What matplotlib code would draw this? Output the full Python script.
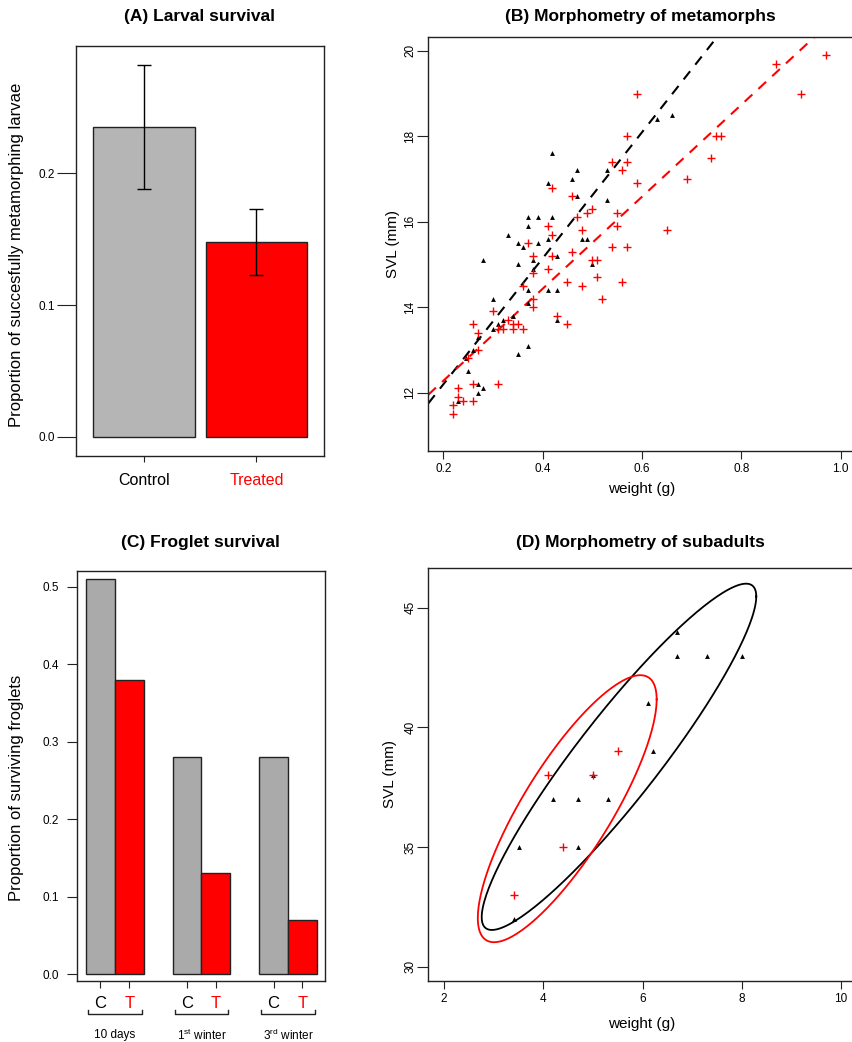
import numpy as np
import matplotlib.pyplot as plt
from matplotlib.transforms import blended_transform_factory

plt.rcParams['font.family'] = ['Liberation Sans', 'DejaVu Sans']
plt.rcParams['mathtext.fontset'] = 'custom'
plt.rcParams['mathtext.rm'] = 'Liberation Sans'

# (A) larval survival
larval_groups = ['Control', 'Treated']
larval_mean = [0.235, 0.148]
larval_err = [0.047, 0.025]

# (B) metamorphs: weight (g) and SVL (mm)
meta_ctrl_w = [0.66, 0.63, 0.42, 0.41, 0.47, 0.46, 0.53, 0.47, 0.53, 0.37, 0.39, 0.42,
               0.37, 0.33, 0.35, 0.36, 0.39, 0.41, 0.48, 0.49, 0.43, 0.28, 0.35, 0.38,
               0.38, 0.41, 0.43, 0.37, 0.30, 0.37, 0.34, 0.32, 0.31, 0.30, 0.27, 0.26,
               0.245, 0.25, 0.43, 0.37, 0.35, 0.27, 0.28, 0.27, 0.23, 0.50]
meta_ctrl_svl = [18.5, 18.4, 17.6, 16.9, 17.2, 17.0, 17.2, 16.6, 16.5, 16.1, 16.1, 16.1,
                 15.9, 15.7, 15.5, 15.4, 15.5, 15.6, 15.6, 15.6, 15.2, 15.1, 15.0, 14.9,
                 15.1, 14.4, 14.4, 14.4, 14.2, 14.1, 13.8, 13.7, 13.6, 13.5, 13.3, 13.0,
                 12.8, 12.5, 13.7, 13.1, 12.9, 12.2, 12.1, 12.0, 11.8, 15.0]
meta_trt_w = [0.97, 0.87, 0.92, 0.59, 0.75, 0.76, 0.74, 0.57, 0.54, 0.57, 0.56, 0.59,
              0.69, 0.42, 0.46, 0.50, 0.49, 0.55, 0.47, 0.55, 0.41, 0.48, 0.42, 0.65,
              0.37, 0.54, 0.57, 0.46, 0.38, 0.42, 0.50, 0.51, 0.41, 0.38, 0.45, 0.48,
              0.51, 0.56, 0.52, 0.36, 0.38, 0.38, 0.30, 0.43, 0.45, 0.33, 0.34, 0.35,
              0.31, 0.32, 0.34, 0.36, 0.26, 0.27, 0.27, 0.25, 0.26, 0.31, 0.23, 0.23,
              0.24, 0.26, 0.22, 0.22]
meta_trt_svl = [19.9, 19.7, 19.0, 19.0, 18.0, 18.0, 17.5, 18.0, 17.4, 17.4, 17.2, 16.9,
                17.0, 16.8, 16.6, 16.3, 16.2, 16.2, 16.1, 15.9, 15.9, 15.8, 15.7, 15.8,
                15.5, 15.4, 15.4, 15.3, 15.2, 15.2, 15.1, 15.1, 14.9, 14.8, 14.6, 14.5,
                14.7, 14.6, 14.2, 14.5, 14.2, 14.0, 13.9, 13.8, 13.6, 13.7, 13.6, 13.6,
                13.5, 13.5, 13.5, 13.5, 13.6, 13.4, 13.0, 12.8, 12.2, 12.2, 12.1, 11.9,
                11.8, 11.8, 11.7, 11.5]
# regression lines (intercept, slope)
meta_ctrl_fit = (9.24, 14.75)
meta_trt_fit = (10.12, 10.77)

# (C) froglet survival
froglet_periods = ['10 days', '1$^{\\mathrm{st}}$ winter', '3$^{\\mathrm{rd}}$ winter']
froglet_ctrl = [0.51, 0.28, 0.28]
froglet_trt = [0.38, 0.13, 0.07]

# (D) subadults
sub_ctrl_w = [6.7, 6.7, 7.3, 8.0, 6.1, 6.2, 5.0, 4.2, 4.7, 5.3, 3.5, 4.7, 3.4]
sub_ctrl_svl = [44, 43, 43, 43, 41, 39, 38, 37, 37, 37, 35, 35, 32]
sub_trt_w = [5.5, 4.1, 5.0, 4.4, 3.4]
sub_trt_svl = [39, 38, 38, 35, 33]

W, H = 853, 1042
fig = plt.figure(figsize=(W / 100, H / 100), dpi=100)


def px_axes(left, top, right, bottom):
    return fig.add_axes([left / W, 1 - bottom / H, (right - left) / W, (bottom - top) / H])


def style(ax):
    for s in ax.spines.values():
        s.set_linewidth(1.0)
        s.set_color('#222222')
    ax.tick_params(direction='out', width=0.8, labelsize=8.5, color='#222222')


def data_ellipse(x, y, level=0.8, npts=300):
    x = np.asarray(x, float)
    y = np.asarray(y, float)
    d2 = len(x) - 1
    fq = d2 / 2 * ((1 - level) ** (-2 / d2) - 1)
    r = np.sqrt(2 * fq)
    L = np.linalg.cholesky(np.cov(x, y))
    t = np.linspace(0, 2 * np.pi, npts)
    pts = L @ np.vstack([np.cos(t), np.sin(t)]) * r
    return x.mean() + pts[0], y.mean() + pts[1]


# ---------------- (A)
axA = px_axes(76, 45.7, 324, 455.7)
style(axA)
xa = np.arange(len(larval_groups))
axA.bar(xa, larval_mean, width=0.9, color=['#b5b5b5', '#ff0000'], edgecolor='#222222', linewidth=1.0)
axA.errorbar(xa, larval_mean, yerr=larval_err, fmt='none', ecolor='black', elinewidth=1.0, capsize=5, capthick=1.0)
axA.set_xlim(-0.603, 1.60)
axA.set_ylim(-0.0144, 0.297)
axA.set_yticks([0.0, 0.1, 0.2])
axA.set_yticklabels(['0.0', '0.1', '0.2'])
axA.tick_params(axis='y', length=14, pad=1)
axA.set_xticks(xa)
axA.set_xticklabels(larval_groups, fontsize=11.5)
axA.tick_params(axis='x', length=4.5, pad=8)
for i, c in enumerate(['black', 'red']):
    axA.get_xticklabels()[i].set_color(c)
    axA.xaxis.get_major_ticks()[i].tick1line.set_color(c)
axA.set_ylabel('Proportion of succesfully metamorphing larvae', fontsize=12)
axA.yaxis.set_label_coords(-0.21, 0.49)
fig.text(200 / W, 1 - 17 / H, '(A) Larval survival', ha='center', va='center', fontsize=12.5, fontweight='bold')

# ---------------- (B)
axB = px_axes(428.3, 36.7, 855.5, 450.7)
style(axB)
axB.plot(meta_ctrl_w, meta_ctrl_svl, '^', color='black', ms=3.5, mew=0, zorder=3)
axB.plot(meta_trt_w, meta_trt_svl, '+', color='red', ms=5.5, mew=1.0, zorder=3)
axB.axline((0, meta_ctrl_fit[0]), slope=meta_ctrl_fit[1], color='black', lw=1.5, ls=(0, (5, 4)))
axB.axline((0, meta_trt_fit[0]), slope=meta_trt_fit[1], color='red', lw=1.5, ls=(0, (5, 4)))
axB.set_xlim(0.17, 1.03)
axB.set_ylim(10.64, 20.33)
axB.set_xticks([0.2, 0.4, 0.6, 0.8, 1.0])
axB.set_xticklabels(['0.2', '0.4', '0.6', '0.8', '1.0'])
axB.set_yticks([12, 14, 16, 18, 20])
axB.tick_params(axis='x', length=6, pad=3)
axB.tick_params(axis='y', length=8, pad=0.5, labelrotation=90)
for lab in axB.get_yticklabels():
    lab.set_va('center')
axB.set_xlabel('weight (g)', fontsize=11)
axB.xaxis.set_label_coords(0.5, -0.076)
axB.set_ylabel('SVL (mm)', fontsize=11)
axB.yaxis.set_label_coords(-0.066, 0.5)
fig.text(640 / W, 1 - 17 / H, '(B) Morphometry of metamorphs', ha='center', va='center', fontsize=12.5, fontweight='bold')

# ---------------- (C)
axC = px_axes(76.7, 570.7, 325, 980.7)
style(axC)
n = len(froglet_periods)
g0 = np.arange(n) * 3
xc_c = g0 + 0.5
xc_t = g0 + 1.5
axC.bar(xc_c, froglet_ctrl, width=1.0, color='#aaaaaa', edgecolor='#222222', linewidth=1.0)
axC.bar(xc_t, froglet_trt, width=1.0, color='#ff0000', edgecolor='#222222', linewidth=1.0)
axC.set_xlim(-0.32, 8.28)
axC.set_ylim(-0.0083, 0.5206)
axC.set_yticks([0.0, 0.1, 0.2, 0.3, 0.4, 0.5])
axC.tick_params(axis='y', length=7, pad=6)
xt = np.ravel(np.column_stack([xc_c, xc_t]))
axC.set_xticks(xt)
axC.set_xticklabels(['C', 'T'] * n, fontsize=12)
axC.tick_params(axis='x', length=5, pad=6)
tick_cols = ['black', 'red', 'black', 'red', 'red', 'black']
for i, tk in enumerate(axC.xaxis.get_major_ticks()):
    tk.tick1line.set_color(tick_cols[i])
    tk.label1.set_color('black' if i % 2 == 0 else 'red')
tr = blended_transform_factory(axC.transData, axC.transAxes)
for i, g in enumerate(g0):
    x1, x2 = g + 0.07, g + 1.93
    axC.plot([x1, x1, x2, x2], [-0.0715, -0.081, -0.081, -0.0715], color='#222222', lw=1.0,
             transform=tr, clip_on=False)
    axC.text(g + 1, -0.1324, froglet_periods[i], transform=tr, ha='center', va='center', fontsize=8.5)
axC.set_ylabel('Proportion of surviving froglets', fontsize=12)
axC.yaxis.set_label_coords(-0.212, 0.47)
fig.text(200 / W, 1 - 543 / H, '(C) Froglet survival', ha='center', va='center', fontsize=12.5, fontweight='bold')

# ---------------- (D)
axD = px_axes(428.3, 568.3, 855.5, 980.7)
style(axD)
axD.plot(sub_ctrl_w, sub_ctrl_svl, '^', color='black', ms=3.5, mew=0, zorder=3)
axD.plot(sub_trt_w, sub_trt_svl, '+', color='red', ms=5.5, mew=1.0, zorder=3)
ex, ey = data_ellipse(sub_ctrl_w, sub_ctrl_svl)
axD.plot(ex, ey, color='black', lw=1.3)
ex, ey = data_ellipse(sub_trt_w, sub_trt_svl)
axD.plot(ex, ey, color='red', lw=1.3)
axD.set_xlim(1.68, 10.29)
axD.set_ylim(29.41, 46.65)
axD.set_xticks([2, 4, 6, 8, 10])
axD.set_yticks([30, 35, 40, 45])
axD.tick_params(axis='x', length=6, pad=3)
axD.tick_params(axis='y', length=8, pad=0.5, labelrotation=90)
for lab in axD.get_yticklabels():
    lab.set_va('center')
axD.set_xlabel('weight (g)', fontsize=11)
axD.xaxis.set_label_coords(0.5, -0.087)
axD.set_ylabel('SVL (mm)', fontsize=11)
axD.yaxis.set_label_coords(-0.074, 0.5)
fig.text(640 / W, 1 - 543 / H, '(D) Morphometry of subadults', ha='center', va='center', fontsize=12.5, fontweight='bold')

fig.savefig('out.png', dpi=100)
